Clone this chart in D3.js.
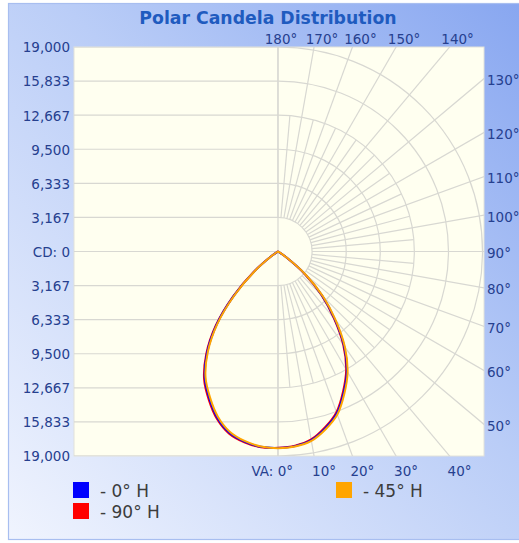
<!DOCTYPE html>
<html><head><meta charset="utf-8">
<script src="https://cdn.jsdelivr.net/npm/d3@7"></script>
<style>body{margin:0;background:#fff;} svg{display:block;}</style>
</head><body>
<svg id="c" width="519" height="543"></svg>
<script>
// ---- data ----
const verticalAngles = [0,5,10,15,20,25,30,35,40,45,50,55,60,65,70,75,80,85,90];
const blueLeft    = [18280,18220,17940,17430,16450,15080,13600,11490,8880,5770,2840,700,100,0,0,0,0,0,0];
const blueRight   = [18250,18150,17800,17000,16000,14450,12800,10700,8200,5800,3300,900,150,0,0,0,0,0,0];
const redLeft     = [18300,18260,18010,17530,16570,15210,13730,11620,9010,5890,2930,740,110,0,0,0,0,0,0];
const redRight    = [18230,18110,17730,16900,15880,14320,12670,10570,8070,5680,3210,860,140,0,0,0,0,0,0];
const orangeLeft  = [18260,18180,17870,17330,16330,14950,13470,11360,8750,5650,2750,660,90,0,0,0,0,0,0];
const orangeRight = [18270,18190,17870,17100,16120,14580,12930,10830,8330,5920,3390,940,160,0,0,0,0,0,0];
const seriesNames  = ["- 0° H", "- 90° H", "- 45° H"];
const seriesColors = ["#0000ff", "#ff0000", "#ffa500"];
const cdTicks = [0, 3167, 6333, 9500, 12667, 15833, 19000];
const cdMax = 19000;
const topAngleLabels = [180, 170, 160, 150, 140];
const rightAngleLabels = [130, 120, 110, 100, 90, 80, 70, 60, 50];
const bottomAngleLabels = [0, 10, 20, 30, 40];
const gridAngles10 = d3.range(0, 181, 10);
const gridAngles5 = d3.range(5, 180, 10);

// ---- layout ----
const svg = d3.select("#c");
const L = 74, R = 484, T = 47, B = 456;
const cx = 278, cy = (T + B) / 2;
const rScale = d3.scaleLinear().domain([0, cdMax]).range([0, B - cy]);
const yUp = d3.scaleLinear().domain([0, cdMax]).range([cy, T]);
const yDown = d3.scaleLinear().domain([0, cdMax]).range([cy, B]);
const rad = d => d * Math.PI / 180;

const defs = svg.append("defs");
const grad = defs.append("linearGradient").attr("id", "bg")
  .attr("x1", "100%").attr("y1", "0%").attr("x2", "0%").attr("y2", "100%");
grad.append("stop").attr("offset", "0%").attr("stop-color", "#86a5f0");
grad.append("stop").attr("offset", "45%").attr("stop-color", "#bacdf7");
grad.append("stop").attr("offset", "100%").attr("stop-color", "#f0f4fe");
defs.append("clipPath").attr("id", "plotClip").append("rect")
  .attr("x", L).attr("y", T).attr("width", R - L).attr("height", B - T);

svg.append("rect").attr("x", 8.5).attr("y", 3.5).attr("width", 530).attr("height", 536)
  .attr("fill", "url(#bg)").attr("stroke", "#a8bef0").attr("stroke-width", 1.2);

// title
svg.append("text").attr("x", 268).attr("y", 24).attr("text-anchor", "middle")
  .attr("font-family", "DejaVu Sans").attr("font-weight", "bold").attr("font-size", 17.3)
  .attr("fill", "#1f5bbf").text("Polar Candela Distribution");

// plot area
svg.append("rect").attr("x", L).attr("y", T).attr("width", R - L).attr("height", B - T)
  .attr("fill", "#fffff0").attr("stroke", "#e2e2da").attr("stroke-width", 1);

const grid = svg.append("g").attr("clip-path", "url(#plotClip)")
  .attr("stroke", "#d8d8d2").attr("stroke-width", 1.2).attr("fill", "none");

// left half horizontal grid lines
cdTicks.forEach(v => {
  [yUp(v), yDown(v)].forEach(y => {
    grid.append("line").attr("x1", L).attr("x2", cx).attr("y1", y).attr("y2", y);
  });
});
grid.append("line").attr("x1", cx).attr("x2", cx).attr("y1", T).attr("y2", B);

// right half rings
cdTicks.slice(1).forEach(v => {
  const rr = rScale(v);
  const p = d3.path();
  p.moveTo(cx, cy - rr);
  p.arc(cx, cy, rr, -Math.PI / 2, Math.PI / 2);
  grid.append("path").attr("d", p.toString());
});
// radial lines
const r0 = rScale(cdTicks[1]);
gridAngles10.forEach(a => {
  const s = Math.sin(rad(a)), c = Math.cos(rad(a));
  grid.append("line").attr("x1", cx + r0 * s).attr("y1", cy + r0 * c)
    .attr("x2", cx + 600 * s).attr("y2", cy + 600 * c);
});
const r5 = rScale(cdTicks[4]);
gridAngles5.forEach(a => {
  const s = Math.sin(rad(a)), c = Math.cos(rad(a));
  grid.append("line").attr("x1", cx + r0 * s).attr("y1", cy + r0 * c)
    .attr("x2", cx + r5 * s).attr("y2", cy + r5 * c);
});

// ---- axes text ----
const labelColor = "#26408f";
const fmt = d3.format(",");
const axUp = svg.append("g").attr("transform", `translate(${70},0)`)
  .call(d3.axisLeft(yUp).tickValues(cdTicks).tickSize(0).tickPadding(0)
    .tickFormat(d => d === 0 ? "CD: 0" : fmt(d)));
const axDown = svg.append("g").attr("transform", `translate(${70},0)`)
  .call(d3.axisLeft(yDown).tickValues(cdTicks.slice(1)).tickSize(0).tickPadding(0)
    .tickFormat(d => fmt(d)));
[axUp, axDown].forEach(g => {
  g.select(".domain").remove();
  g.selectAll("text").attr("font-family", "DejaVu Sans").attr("font-size", 13.5)
    .attr("fill", labelColor).attr("dy", "0.36em");
});

const angText = (x, y, t, anchor) => svg.append("text").attr("x", x).attr("y", y)
  .attr("text-anchor", anchor).attr("font-family", "DejaVu Sans").attr("font-size", 13.5)
  .attr("fill", labelColor).text(t);

topAngleLabels.forEach(a => {
  const x = cx + (T - cy) * Math.tan(rad(a));
  angText(x + (a === 180 ? 3 : 8), 44, a + "°", "middle");
});
bottomAngleLabels.forEach(a => {
  const x = cx + (B - cy) * Math.tan(rad(a));
  if (a === 0) angText(293, 476, "VA: 0°", "end");
  else angText(x - 2, 476, a + "°", "start");
});
rightAngleLabels.forEach(a => {
  const y = cy + (R - cx) * Math.cos(rad(a)) / Math.sin(rad(a));
  angText(487, y + 1.5, a + "°", "start").attr("dy", "0.36em");
});

// ---- curves ----
const line = d3.lineRadial()
  .angle(d => d[0]).radius(d => rScale(d[1]))
  .curve(d3.curveCatmullRom.alpha(0.5));
function buildPoints(left, right) {
  const pts = [];
  for (let i = verticalAngles.length - 1; i >= 0; i--) pts.push([Math.PI - rad(verticalAngles[i]), right[i]]);
  for (let i = 1; i < verticalAngles.length; i++) pts.push([Math.PI + rad(verticalAngles[i]), left[i]]);
  let s = 0; while (s + 1 < pts.length && pts[s + 1][1] === 0) s++;
  let e = pts.length - 1; while (e - 1 >= 0 && pts[e - 1][1] === 0) e--;
  return pts.slice(s, e + 1);
}
const curves = [
  {left: redLeft, right: redRight, color: seriesColors[1]},
  {left: blueLeft, right: blueRight, color: seriesColors[0]},
  {left: orangeLeft, right: orangeRight, color: seriesColors[2]}
];
const cg = svg.append("g").attr("transform", `translate(${cx},${cy})`);
curves.forEach(c => {
  cg.append("path").attr("d", line(buildPoints(c.left, c.right)))
    .attr("fill", "none").attr("stroke", c.color).attr("stroke-width", 2)
    .attr("stroke-linejoin", "round");
});

// ---- legend ----
const legendItems = [
  {name: seriesNames[0], color: seriesColors[0], x: 73, y: 482},
  {name: seriesNames[1], color: seriesColors[1], x: 73, y: 503},
  {name: seriesNames[2], color: seriesColors[2], x: 336, y: 482}
];
legendItems.forEach(it => {
  svg.append("rect").attr("x", it.x).attr("y", it.y).attr("width", 16).attr("height", 16)
    .attr("fill", it.color);
  svg.append("text").attr("x", it.x + 27).attr("y", it.y + 14.5)
    .attr("font-family", "DejaVu Sans").attr("font-size", 17).attr("fill", "#3c3c3c")
    .text(it.name);
});
</script>
</body></html>
